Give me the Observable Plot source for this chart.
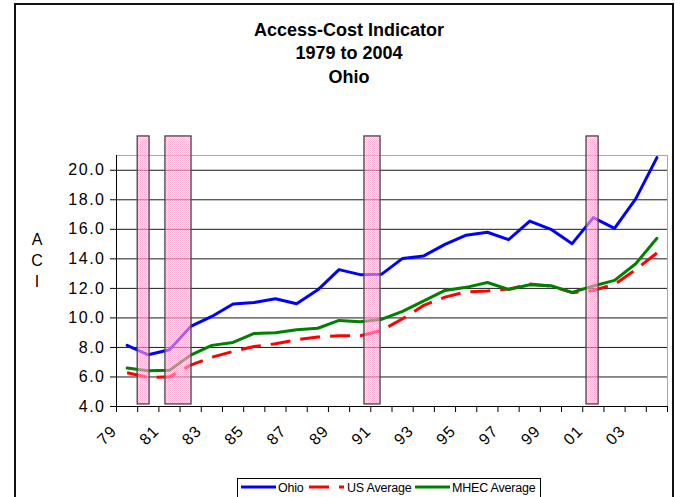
<!DOCTYPE html>
<html>
<head>
<meta charset="utf-8">
<script src="https://cdn.jsdelivr.net/npm/d3@7"></script>
<script src="https://cdn.jsdelivr.net/npm/@observablehq/plot@0.6"></script>
<style>
  html, body { margin: 0; padding: 0; background: #fff; }
  body { width: 680px; height: 497px; overflow: hidden; font-family: "Liberation Sans", Arial, sans-serif; }
  #wrap { position: relative; width: 680px; height: 497px; }
  #chart svg { position: absolute; left: 0; top: 0; }
  #frame { position: absolute; left: 14px; top: 3px; width: 660px; height: 520px; border: 2px solid #111; box-sizing: border-box; }
  #title { position: absolute; left: 9px; top: 19px; width: 680px; text-align: center; font-weight: bold; font-size: 18px; line-height: 23.3px; color: #000; }
  #ylab { position: absolute; left: 27px; top: 229px; width: 20px; text-align: center; font-size: 16px; line-height: 21px; color: #000; }
  #legend { position: absolute; left: 237px; top: 478px; }
  g[aria-label="y-axis tick label"] text { letter-spacing: 1.5px; }
  .xlab text { letter-spacing: 1px; }
</style>
</head>
<body>
<div id="wrap">
  <div id="frame"></div>
  <div id="chart"></div>
  <div id="title"></div>
  <div id="ylab"></div>
  <div id="legend"></div>
</div>
<script>
// ---- data ----
const years = [1979,1980,1981,1982,1983,1984,1985,1986,1987,1988,1989,1990,1991,1992,1993,1994,1995,1996,1997,1998,1999,2000,2001,2002,2003,2004];
const ohio = [8.14,7.50,7.84,9.42,10.10,10.94,11.05,11.30,10.96,11.90,13.27,12.93,12.95,14.03,14.20,14.98,15.60,15.80,15.30,16.56,16.00,15.03,16.79,16.07,18.06,20.86];
const usAverage = [6.28,5.97,6.01,6.80,7.34,7.73,8.06,8.25,8.52,8.70,8.79,8.79,9.15,9.94,10.85,11.41,11.77,11.82,11.95,12.29,12.16,11.71,11.86,12.27,13.27,14.40];
const mhecAverage = [6.60,6.42,6.46,7.48,8.14,8.34,8.95,9.00,9.20,9.30,9.83,9.74,9.90,10.44,11.16,11.86,12.07,12.40,11.93,12.25,12.18,11.73,12.16,12.54,13.67,15.39];
const recessionStart = [1979.50, 1980.81, 1990.20, 2000.68];
const recessionEnd   = [1980.06, 1982.04, 1990.96, 2001.25];
const labelYears = [1979,1981,1983,1985,1987,1989,1991,1993,1995,1997,1999,2001,2003];
const xTickLabels = ["79","81","83","85","87","89","91","93","95","97","99","01","03"];
const yTicks = [4,6,8,10,12,14,16,18,20];
const seriesNames = ["Ohio","US Average","MHEC Average"];
const seriesColors = ["#0000ff","#ff0000","#008000"];
const titleLines = ["Access-Cost Indicator","1979 to 2004","Ohio"];
const yAxisLetters = ["A","C","I"];

// ---- derived ----
const xBounds = years.map(y => y - 0.5).concat([years[years.length-1] + 0.5]);
const xDomain = [xBounds[0], xBounds[xBounds.length-1]];
const yDomain = [4, 21];
const barBottom = 4.14, barTop = 22.29;

const dash = "20,10";

const plot = Plot.plot({
  width: 680,
  height: 497,
  marginLeft: 116,
  marginRight: 13,
  marginTop: 155,
  marginBottom: 91,
  x: {domain: xDomain, axis: null},
  y: {domain: yDomain, axis: null},
  style: {fontFamily: '"Liberation Sans", Arial, sans-serif', fontSize: "16px", color: "#000", background: "transparent", overflow: "visible"},
  marks: [
    Plot.ruleY(yTicks.filter(v => v > yDomain[0]), {stroke: "#1a1a1a", strokeWidth: 1}),
    Plot.ruleY([yDomain[1]], {stroke: "#a8a8a8", strokeWidth: 1}),
    Plot.ruleX([xDomain[1]], {stroke: "#a8a8a8", strokeWidth: 1}),
    Plot.line(years, {x: d => d, y: (d, i) => ohio[i], stroke: seriesColors[0], strokeWidth: 3}),
    Plot.line(years, {x: d => d, y: (d, i) => usAverage[i], stroke: seriesColors[1], strokeWidth: 3, strokeDasharray: dash, strokeLinecap: "butt"}),
    Plot.line(years, {x: d => d, y: (d, i) => mhecAverage[i], stroke: seriesColors[2], strokeWidth: 3}),
    Plot.rect(recessionStart, {x1: d => d, x2: (d, i) => recessionEnd[i], y1: () => barBottom, y2: () => barTop,
      fill: "url(#pinkHatch)", fillOpacity: 0.6, stroke: "#444", strokeWidth: 1.3}),
    Plot.ruleX([xDomain[0]], {stroke: "#000", strokeWidth: 1}),
    Plot.ruleY([yDomain[0]], {stroke: "#000", strokeWidth: 1}),
    Plot.axisY({ticks: yTicks, tickSize: 6, tickPadding: 5, tickFormat: d => d.toFixed(1), label: null, fontSize: 16}),
    Plot.axisX({ticks: xBounds, tickSize: 6, tickFormat: () => "", label: null}),
    Plot.text(labelYears, {x: d => d, y: () => yDomain[0], text: (d, i) => xTickLabels[i], rotate: -45,
      textAnchor: "end", lineAnchor: "middle", dx: -13, dy: 22, fontSize: 16, className: "xlab"})
  ]
});

// hatch pattern for recession bars
const defs = d3.select(plot).insert("defs", ":first-child");
const pat = defs.append("pattern").attr("id", "pinkHatch").attr("patternUnits", "userSpaceOnUse").attr("width", 2).attr("height", 2);
pat.append("rect").attr("width", 2).attr("height", 2).attr("fill", "#ffd0e8");
pat.append("rect").attr("width", 1).attr("height", 1).attr("fill", "#ff80c0");
pat.append("rect").attr("x", 1).attr("y", 1).attr("width", 1).attr("height", 1).attr("fill", "#ff99cc");

document.getElementById("chart").appendChild(plot);

// title
document.getElementById("title").innerHTML = titleLines.map(t => `<div>${t}</div>`).join("");
document.getElementById("ylab").innerHTML = yAxisLetters.map(t => `<div>${t}</div>`).join("");

// legend
const lg = d3.select("#legend").append("svg").attr("width", 305).attr("height", 22)
  .style("font-family", '"Liberation Sans", Arial, sans-serif').style("font-size", "12.5px");
lg.append("rect").attr("x", 0.5).attr("y", 0.5).attr("width", 303).attr("height", 24).attr("fill", "#fff").attr("stroke", "#000");
const items = [
  {lx: 4, tx: 41},
  {lx: 72, tx: 110},
  {lx: 178, tx: 215}
];
items.forEach((it, i) => {
  lg.append("line").attr("x1", it.lx).attr("x2", it.lx + 35).attr("y1", 9).attr("y2", 9)
    .attr("stroke", seriesColors[i]).attr("stroke-width", 3)
    .attr("stroke-dasharray", i === 1 ? dash : null);
  lg.append("text").attr("x", it.tx).attr("y", 13.7).attr("fill", "#000").style("letter-spacing", "-0.2px").text(seriesNames[i]);
});
</script>
</body>
</html>
